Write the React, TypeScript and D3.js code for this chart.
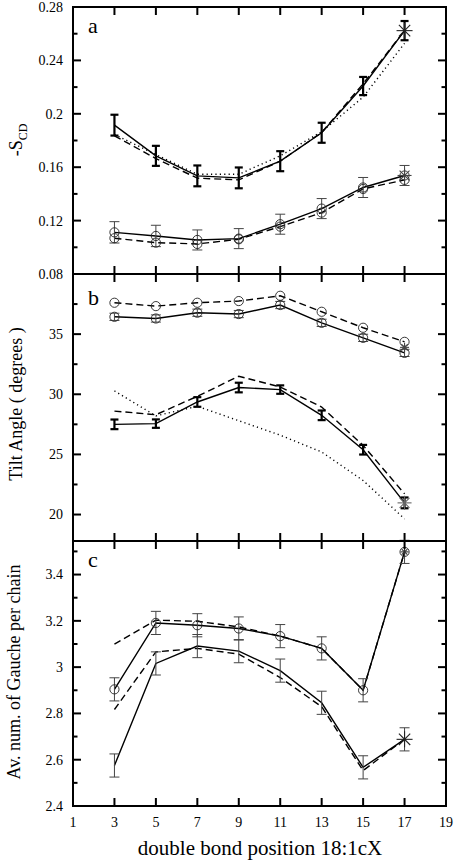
import React from 'react';
import * as d3 from 'd3';

// ---------- data ----------
const POSITIONS = [3, 5, 7, 9, 11, 13, 15, 17];
const X_TICKS = [1, 3, 5, 7, 9, 11, 13, 15, 17, 19];

// panel a : -S_CD
const A_SOLID_UP = [0.1915, 0.1685, 0.1535, 0.152, 0.1645, 0.1858, 0.2208, 0.2623];
const A_SOLID_UP_ERR = [0.0078, 0.0075, 0.0078, 0.0078, 0.0075, 0.0075, 0.0068, 0.0072];
const A_DASHED_UP = [0.1835, 0.1665, 0.1518, 0.1505, 0.1645, 0.186, 0.2225, 0.2623];
const A_DOTTED_UP = [0.1845, 0.1695, 0.1547, 0.1547, 0.1685, 0.1866, 0.2125, 0.2528];
const A_SOLID_LOW = [0.1112, 0.1085, 0.1055, 0.1065, 0.1173, 0.129, 0.1448, 0.1538];
const A_SOLID_LOW_ERR = [0.008, 0.008, 0.0075, 0.0075, 0.0075, 0.0075, 0.0075, 0.0075];
const A_DASHED_LOW = [0.1068, 0.1035, 0.1025, 0.106, 0.1155, 0.126, 0.1437, 0.1505];
const A_MAJOR = [0.08, 0.12, 0.16, 0.2, 0.24, 0.28];
const A_LABELS = ['0.08', '0.12', '0.16', '0.2', '0.24', '0.28'];
const A_MINOR = [0.1, 0.14, 0.18, 0.22, 0.26];

// panel b : tilt angle
const B_SOLID_UP = [36.44, 36.3, 36.78, 36.67, 37.42, 35.94, 34.69, 33.44];
const B_SOLID_UP_ERR = [0.3, 0.3, 0.3, 0.3, 0.3, 0.3, 0.3, 0.3];
const B_DASHED_UP = [37.61, 37.33, 37.61, 37.75, 38.19, 36.86, 35.53, 34.36];
const B_SOLID_LOW = [27.5, 27.56, 29.36, 30.56, 30.39, 28.25, 25.39, 20.97];
const B_SOLID_LOW_ERR = [0.4, 0.35, 0.4, 0.4, 0.35, 0.4, 0.4, 0.45];
const B_DASHED_LOW = [28.6, 28.3, 29.83, 31.5, 30.61, 28.94, 25.75, 21.72];
const B_DOTTED = [30.28, 28.2, 29.0, 27.8, 26.6, 25.2, 22.83, 19.64];
const B_MAJOR = [20, 25, 30, 35];
const B_LABELS = ['20', '25', '30', '35'];
const B_MINOR = [22.5, 27.5, 32.5, 37.5];

// panel c : gauche per chain
const C_SOLID_UP = [2.904, 3.191, 3.181, 3.167, 3.134, 3.081, 2.9, 3.498];
const C_SOLID_UP_ERR = [0.05, 0.05, 0.05, 0.05, 0.05, 0.05, 0.05, 0.05];
const C_DASHED_UP = [3.099, 3.203, 3.198, 3.174, 3.134, 3.081, 2.9, 3.498];
const C_SOLID_LOW = [2.575, 3.016, 3.091, 3.069, 2.985, 2.846, 2.567, 2.688];
const C_SOLID_LOW_ERR = [0.05, 0.05, 0.05, 0.05, 0.05, 0.05, 0.05, 0.05];
const C_DASHED_LOW = [2.817, 3.066, 3.081, 3.056, 2.955, 2.829, 2.553, 2.688];
const C_MAJOR = [2.4, 2.6, 2.8, 3, 3.2, 3.4];
const C_LABELS = ['2.4', '2.6', '2.8', '3', '3.2', '3.4'];
const C_MINOR = [2.5, 2.7, 2.9, 3.1, 3.3, 3.5];

// ---------- layout ----------
const W = 455;
const H = 865;
const FONT = '"Liberation Serif", "Times New Roman", serif';
const x = d3.scaleLinear().domain([1, 19]).range([73, 446]);

type Series = { values: number[]; style: 'solid' | 'dashed' | 'dotted' };
type Err = { values: number[]; err: number[]; thick: boolean };
type PanelDef = {
  top: number;
  bottom: number;
  domain: [number, number];
  major: number[];
  labels: string[];
  minor: number[];
  letter: string;
  letterY: number;
  lines: Series[];
  errs: Err[];
  circles: number[][];
  stars: { v: number; r: number; color: string }[];
  last: boolean;
};

const DASH: Record<string, string | undefined> = {
  solid: undefined,
  dashed: '7,4',
  dotted: '1.2,3.2',
};

function Star({ cx, cy, r, color }: { cx: number; cy: number; r: number; color: string }) {
  const angles = [0, 45, 90, 135];
  return (
    <g stroke={color} strokeWidth={1.1}>
      {angles.map((a) => {
        const rad = (a * Math.PI) / 180;
        const dx = Math.cos(rad) * r;
        const dy = Math.sin(rad) * r;
        return <line key={a} x1={cx - dx} y1={cy - dy} x2={cx + dx} y2={cy + dy} />;
      })}
    </g>
  );
}

function Panel({ p }: { p: PanelDef }) {
  const y = d3.scaleLinear().domain(p.domain).range([p.bottom, p.top]);
  const line = d3
    .line<number>()
    .x((_, i) => x(POSITIONS[i]))
    .y((d) => y(d));
  const L = x.range()[0];
  const R = x.range()[1];
  return (
    <g>
      {/* lines */}
      {p.lines.map((s, i) => (
        <path
          key={i}
          d={line(s.values) || ''}
          fill="none"
          stroke="#000"
          strokeWidth={s.style === 'dotted' ? 1.4 : 1.4}
          strokeDasharray={DASH[s.style]}
        />
      ))}
      {/* error bars */}
      {p.errs.map((e, k) =>
        e.values.map((v, i) => {
          const cx = x(POSITIONS[i]);
          const y1 = y(v - e.err[i]);
          const y2 = y(v + e.err[i]);
          const hw = e.thick ? 4 : 5;
          const col = e.thick ? '#000' : '#444';
          const sw = e.thick ? 2.2 : 1;
          return (
            <g key={`${k}-${i}`} stroke={col} strokeWidth={sw}>
              <line x1={cx} x2={cx} y1={y1} y2={y2} />
              <line x1={cx - hw} x2={cx + hw} y1={y1} y2={y1} />
              <line x1={cx - hw} x2={cx + hw} y1={y2} y2={y2} />
            </g>
          );
        })
      )}
      {/* circles */}
      {p.circles.map((vals, k) =>
        vals.map((v, i) => (
          <circle
            key={`c${k}-${i}`}
            cx={x(POSITIONS[i])}
            cy={y(v)}
            r={4.6}
            fill="none"
            stroke="#222"
            strokeWidth={0.9}
          />
        ))
      )}
      {/* stars */}
      {p.stars.map((s, k) => (
        <Star key={`s${k}`} cx={x(17)} cy={y(s.v)} r={s.r} color={s.color} />
      ))}
      {/* frame */}
      <rect
        x={L}
        y={p.top}
        width={R - L}
        height={p.bottom - p.top}
        fill="none"
        stroke="#000"
        strokeWidth={2}
      />
      {/* x ticks top and bottom */}
      {X_TICKS.slice(1, -1).map((t) => (
        <g key={`xt${t}`} stroke="#000" strokeWidth={2}>
          <line x1={x(t)} x2={x(t)} y1={p.top} y2={p.top + 8} />
          <line x1={x(t)} x2={x(t)} y1={p.bottom} y2={p.bottom - 8} />
        </g>
      ))}
      {/* y ticks */}
      {p.major.map((t) => (
        <g key={`ym${t}`} stroke="#000" strokeWidth={2}>
          <line x1={L} x2={L + 8} y1={y(t)} y2={y(t)} />
          <line x1={R} x2={R - 8} y1={y(t)} y2={y(t)} />
        </g>
      ))}
      {p.minor
        .filter((t) => y(t) > p.top + 1 && y(t) < p.bottom - 1)
        .map((t) => (
          <g key={`yn${t}`} stroke="#000" strokeWidth={2}>
            <line x1={L} x2={L + 4.5} y1={y(t)} y2={y(t)} />
            <line x1={R} x2={R - 4.5} y1={y(t)} y2={y(t)} />
          </g>
        ))}
      {/* y labels */}
      {p.major.map((t, i) => (
        <text
          key={`yl${t}`}
          x={L - 10}
          y={y(t)}
          dy="0.35em"
          textAnchor="end"
          fontFamily={FONT}
          fontSize={14}
          fill="#000"
        >
          {p.labels[i]}
        </text>
      ))}
      {/* x labels */}
      {p.last &&
        X_TICKS.map((t) => (
          <text
            key={`xl${t}`}
            x={x(t)}
            y={p.bottom + 21}
            textAnchor="middle"
            fontFamily={FONT}
            fontSize={14}
            fill="#000"
          >
            {t}
          </text>
        ))}
      {/* panel letter */}
      <text x={88} y={p.letterY} fontFamily={FONT} fontSize={22} fill="#000">
        {p.letter}
      </text>
    </g>
  );
}

const PANELS: PanelDef[] = [
  {
    top: 7,
    bottom: 274,
    domain: [0.08, 0.28],
    major: A_MAJOR,
    labels: A_LABELS,
    minor: A_MINOR,
    letter: 'a',
    letterY: 33,
    lines: [
      { values: A_DOTTED_UP, style: 'dotted' },
      { values: A_DASHED_UP, style: 'dashed' },
      { values: A_SOLID_UP, style: 'solid' },
      { values: A_DASHED_LOW, style: 'dashed' },
      { values: A_SOLID_LOW, style: 'solid' },
    ],
    errs: [
      { values: A_SOLID_UP, err: A_SOLID_UP_ERR, thick: true },
      { values: A_SOLID_LOW, err: A_SOLID_LOW_ERR, thick: false },
    ],
    circles: [A_SOLID_LOW, A_DASHED_LOW],
    stars: [
      { v: A_SOLID_UP[7], r: 8, color: '#222' },
      { v: A_SOLID_LOW[7], r: 7, color: '#444' },
    ],
    last: false,
  },
  {
    top: 274,
    bottom: 541,
    domain: [17.8, 40],
    major: B_MAJOR,
    labels: B_LABELS,
    minor: B_MINOR,
    letter: 'b',
    letterY: 305,
    lines: [
      { values: B_DOTTED, style: 'dotted' },
      { values: B_DASHED_UP, style: 'dashed' },
      { values: B_SOLID_UP, style: 'solid' },
      { values: B_DASHED_LOW, style: 'dashed' },
      { values: B_SOLID_LOW, style: 'solid' },
    ],
    errs: [
      { values: B_SOLID_UP, err: B_SOLID_UP_ERR, thick: false },
      { values: B_SOLID_LOW, err: B_SOLID_LOW_ERR, thick: true },
    ],
    circles: [B_SOLID_UP, B_DASHED_UP],
    stars: [
      { v: B_SOLID_LOW[7], r: 7, color: '#666' },
      { v: (B_SOLID_UP[7] + B_DASHED_UP[7]) / 2, r: 4.5, color: '#444' },
    ],
    last: false,
  },
  {
    top: 541,
    bottom: 806,
    domain: [2.4, 3.545],
    major: C_MAJOR,
    labels: C_LABELS,
    minor: C_MINOR,
    letter: 'c',
    letterY: 567,
    lines: [
      { values: C_DASHED_UP, style: 'dashed' },
      { values: C_SOLID_UP, style: 'solid' },
      { values: C_DASHED_LOW, style: 'dashed' },
      { values: C_SOLID_LOW, style: 'solid' },
    ],
    errs: [
      { values: C_SOLID_UP, err: C_SOLID_UP_ERR, thick: false },
      { values: C_SOLID_LOW, err: C_SOLID_LOW_ERR, thick: false },
    ],
    circles: [C_SOLID_UP],
    stars: [
      { v: C_SOLID_LOW[7], r: 8, color: '#222' },
      { v: C_SOLID_UP[7], r: 4, color: '#333' },
    ],
    last: true,
  },
];

export default function App() {
  return (
    <svg
      width={W}
      height={H}
      viewBox={`0 0 ${W} ${H}`}
      style={{ position: 'absolute', left: 0, top: 0, background: '#fff' }}
    >
      <rect x={0} y={0} width={W} height={H} fill="#fff" />
      {PANELS.map((p, i) => (
        <Panel key={i} p={p} />
      ))}
      {/* axis titles */}
      <text
        transform="translate(22,140) rotate(-90)"
        textAnchor="middle"
        fontFamily={FONT}
        fontSize={18}
        fill="#000"
      >
        -S<tspan fontSize={12} dy={5}>CD</tspan>
      </text>
      <text
        transform="translate(22,404) rotate(-90)"
        textAnchor="middle"
        fontFamily={FONT}
        fontSize={18}
        fill="#000"
      >
        Tilt Angle ( degrees )
      </text>
      <text
        transform="translate(20,672) rotate(-90)"
        textAnchor="middle"
        fontFamily={FONT}
        fontSize={18}
        fill="#000"
      >
        Av. num. of Gauche per chain
      </text>
      <text
        x={260}
        y={855}
        textAnchor="middle"
        fontFamily={FONT}
        fontSize={21}
        fill="#000"
      >
        double bond position 18:1cX
      </text>
    </svg>
  );
}
